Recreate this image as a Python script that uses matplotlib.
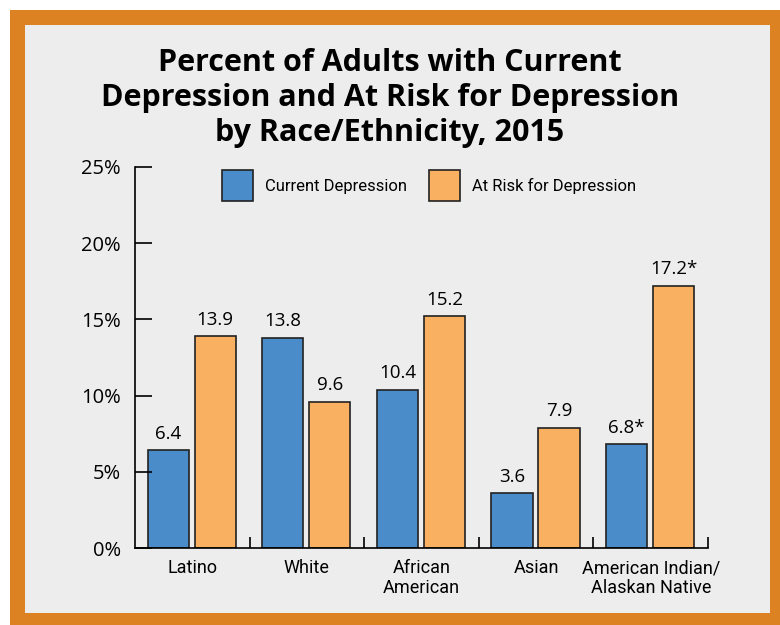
import matplotlib
matplotlib.use("Agg")
import matplotlib.pyplot as plt
from matplotlib.patches import Rectangle
from matplotlib import font_manager
import numpy as np

categories = ["Latino", "White", "African\nAmerican", "Asian", "American Indian/\nAlaskan Native"]
current = [6.4, 13.8, 10.4, 3.6, 6.8]
at_risk = [13.9, 9.6, 15.2, 7.9, 17.2]
current_labels = ["6.4", "13.8", "10.4", "3.6", "6.8*"]
at_risk_labels = ["13.9", "9.6", "15.2", "7.9", "17.2*"]
yticks = [0, 5, 10, 15, 20, 25]
series_names = ["Current Depression", "At Risk for Depression"]

blue = "#4A8CCA"
orange = "#F9B061"

names = {f.name for f in font_manager.fontManager.ttflist}
narrow = "Liberation Sans Narrow" if "Liberation Sans Narrow" in names else "Roboto"
plt.rcParams["font.family"] = ["Open Sans", "DejaVu Sans"]

W, H = 780, 625
fig = plt.figure(figsize=(7.8, 6.25), dpi=100, facecolor="white")
fig.patches.append(Rectangle((10/W, 0), 770/W, 615/H, transform=fig.transFigure,
                             facecolor="#DD8222", edgecolor="none", zorder=-2))
fig.patches.append(Rectangle((25/W, 12/H), 745/W, 588/H, transform=fig.transFigure,
                             facecolor="#EDEDED", edgecolor="none", zorder=-1))

fig.text(0.5, 1 - 98/H, "Percent of Adults with Current\nDepression and At Risk for Depression\nby Race/Ethnicity, 2015",
         ha="center", va="center", fontsize=22, fontweight="bold", linespacing=1.2)

ax = fig.add_axes([135/W, 77/H, 573/W, 381/H])
ax.set_facecolor("none")
x = np.arange(len(categories))
w = 0.36
b1 = ax.bar(x + 0.29, current, w, color=blue, edgecolor="#222222", linewidth=1.2)
b2 = ax.bar(x + 0.70, at_risk, w, color=orange, edgecolor="#222222", linewidth=1.2)

for r, t in zip(b1, current_labels):
    ax.text(r.get_x() + r.get_width()/2, r.get_height() + 0.5, t, ha="center", va="bottom", fontsize=13.5)
for r, t in zip(b2, at_risk_labels):
    ax.text(r.get_x() + r.get_width()/2, r.get_height() + 0.5, t, ha="center", va="bottom", fontsize=13.5)

ax.set_xlim(0, 5)
ax.set_ylim(0, 25)
ax.set_yticks(yticks)
ax.set_yticklabels([f"{v}%" for v in yticks], fontsize=14.5)
ax.tick_params(axis="y", direction="in", length=12, width=1.2, pad=10)
ax.set_xticks(x + 0.5)
ax.set_xticklabels(categories, fontsize=13, family=narrow, linespacing=1.12)
ax.tick_params(axis="x", length=0, pad=8)
ax.set_xticks(np.arange(1, 6), minor=True)
ax.tick_params(axis="x", which="minor", direction="in", length=8, width=1.2)
for s in ["top", "right"]:
    ax.spines[s].set_visible(False)
for s in ["left", "bottom"]:
    ax.spines[s].set_linewidth(1.2)

# legend: swatches + labels placed in figure pixels
for name, col, sx in zip(series_names, [blue, orange], [222, 429]):
    fig.patches.append(Rectangle((sx/W, 1 - 201/H), 31/W, 31/H, transform=fig.transFigure,
                                 facecolor=col, edgecolor="#222222", linewidth=1.2))
    fig.text((sx + 43)/W, 1 - 186/H, name, ha="left", va="center", fontsize=12, family=narrow)

fig.savefig("out.png", dpi=100, facecolor="white")
